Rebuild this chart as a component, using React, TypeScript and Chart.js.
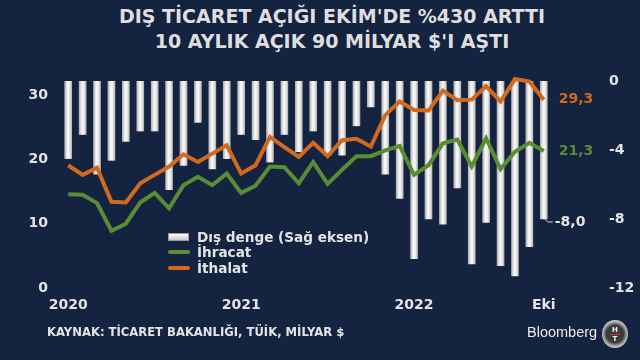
import React, { useEffect, useRef } from "react";
import { Chart, registerables } from "chart.js";

Chart.register(...registerables);

const months = [
  "2020-01","2020-02","2020-03","2020-04","2020-05","2020-06","2020-07","2020-08","2020-09","2020-10","2020-11","2020-12",
  "2021-01","2021-02","2021-03","2021-04","2021-05","2021-06","2021-07","2021-08","2021-09","2021-10","2021-11","2021-12",
  "2022-01","2022-02","2022-03","2022-04","2022-05","2022-06","2022-07","2022-08","2022-09","2022-10",
];

const xTickLabels: Record<string, string> = {
  "2020-01": "2020",
  "2021-01": "2021",
  "2022-01": "2022",
  "2022-10": "Eki",
};

const disDenge = [
  -4.5, -3.1, -5.4, -4.6, -3.5, -2.9, -2.9, -6.3, -4.9, -2.4, -5.1, -4.5,
  -3.1, -3.4, -4.7, -3.1, -4.1, -2.9, -4.3, -4.3, -2.6, -1.5, -5.4, -6.8,
  -10.3, -8.0, -8.3, -6.2, -10.6, -8.2, -10.7, -11.3, -9.6, -8.0,
];

const ihracat = [
  14.6, 14.5, 13.2, 8.9, 10.0, 13.3, 14.8, 12.4, 16.0, 17.3, 16.0, 17.8,
  14.8, 15.9, 18.9, 18.8, 16.3, 19.6, 16.2, 18.4, 20.5, 20.5, 21.4, 22.1,
  17.6, 19.1, 22.5, 23.1, 18.9, 23.3, 18.5, 21.2, 22.6, 21.3,
];

const ithalat = [
  19.1, 17.6, 18.7, 13.4, 13.3, 16.3, 17.6, 18.9, 20.8, 19.6, 20.9, 22.2,
  17.8, 19.1, 23.5, 21.9, 20.4, 22.6, 20.5, 23.0, 23.2, 22.0, 26.9, 29.0,
  27.7, 27.6, 30.7, 29.2, 29.3, 31.4, 29.0, 32.5, 32.1, 29.3,
];

const leftTicks = [0, 10, 20, 30];
const rightTicks = [-12, -8, -4, 0];

const BG = "#14233f";
const GREEN = "#5a8c33";
const ORANGE = "#d2691f";
const TEXT = "#e4e4e4";
const FONT = "'DejaVu Sans', Verdana, sans-serif";

const fmt = (v: number) => v.toFixed(1).replace(".", ",");

const endLabels = {
  id: "endLabels",
  afterDatasetsDraw(chart: any) {
    const { ctx, scales } = chart;
    const sx = scales.x, sy = scales.y, sy2 = scales.y2;
    const n = months.length - 1;
    const xLast = sx.getPixelForValue(n);
    ctx.save();
    ctx.font = `bold 14px ${FONT}`;
    ctx.textBaseline = "middle";
    ctx.textAlign = "left";
    ctx.fillStyle = ORANGE;
    ctx.fillText(fmt(ithalat[n]), xLast + 15, sy.getPixelForValue(ithalat[n]));
    ctx.fillStyle = GREEN;
    ctx.fillText(fmt(ihracat[n]), xLast + 15, sy.getPixelForValue(ihracat[n]));
    const yb = sy2.getPixelForValue(disDenge[n]);
    ctx.strokeStyle = "#cfcfcf";
    ctx.lineWidth = 1;
    ctx.beginPath();
    ctx.moveTo(xLast + 1, yb);
    ctx.lineTo(xLast + 4, yb + 3);
    ctx.lineTo(xLast + 9, yb + 3);
    ctx.stroke();
    ctx.fillStyle = TEXT;
    ctx.fillText(fmt(disDenge[n]), xLast + 11, yb + 3);
    ctx.restore();
  },
};

function barFill(c: any) {
  const chart = c.chart;
  const sx = chart.scales && chart.scales.x;
  if (!sx || c.dataIndex == null) return "#dedede";
  const x = sx.getPixelForValue(c.dataIndex);
  if (!isFinite(x)) return "#dedede";
  const g = chart.ctx.createLinearGradient(x - 3.5, 0, x + 3.5, 0);
  g.addColorStop(0, "#b0b0b0");
  g.addColorStop(0.4, "#f8f8f8");
  g.addColorStop(0.7, "#ebebeb");
  g.addColorStop(1, "#b4b4b4");
  return g;
}

export default function App() {
  const ref = useRef<HTMLCanvasElement>(null);

  useEffect(() => {
    document.body.style.margin = "0";
    const chart = new Chart(ref.current as HTMLCanvasElement, {
      data: {
        labels: months,
        datasets: [
          {
            type: "line",
            label: "İthalat",
            data: ithalat,
            yAxisID: "y",
            borderColor: ORANGE,
            borderWidth: 4,
            pointRadius: 0,
            tension: 0,
            clip: false,
            order: 1,
          },
          {
            type: "line",
            label: "İhracat",
            data: ihracat,
            yAxisID: "y",
            borderColor: GREEN,
            borderWidth: 4,
            pointRadius: 0,
            tension: 0,
            clip: false,
            order: 0,
          },
          {
            type: "bar",
            label: "Dış denge (Sağ eksen)",
            data: disDenge,
            yAxisID: "y2",
            backgroundColor: barFill,
            borderWidth: 0,
            barThickness: 7,
            order: 2,
          },
        ] as any,
      },
      options: {
        responsive: false,
        animation: false,
        layout: { padding: { top: 81, left: 0, right: 0, bottom: 0 } },
        plugins: {
          legend: { display: false },
          title: { display: false },
          tooltip: { enabled: false },
        },
        scales: {
          x: {
            type: "category",
            offset: true,
            grid: { display: false, drawTicks: false },
            border: { display: false },
            ticks: {
              autoSkip: false,
              maxRotation: 0,
              padding: 9,
              color: TEXT,
              font: { family: FONT, weight: "bold", size: 14 },
              callback: (_v: any, i: number) => xTickLabels[months[i]] || "",
            },
            afterFit: (s: any) => { s.height = 72; },
          },
          y: {
            type: "linear",
            position: "left",
            min: 0,
            max: 32.2,
            grid: { display: false, drawTicks: false },
            border: { display: false },
            ticks: {
              stepSize: 10,
              includeBounds: false,
              padding: 13,
              color: TEXT,
              font: { family: FONT, weight: "bold", size: 14 },
              callback: (v: any) => (leftTicks.includes(Number(v)) ? String(v) : ""),
            },
            afterFit: (s: any) => { s.width = 61; },
          },
          y2: {
            type: "linear",
            position: "right",
            min: -12,
            max: 0,
            grid: { display: false, drawTicks: false },
            border: { display: false },
            ticks: {
              stepSize: 4,
              padding: 58,
              color: TEXT,
              font: { family: FONT, weight: "bold", size: 14 },
              callback: (v: any) => (rightTicks.includes(Number(v)) ? String(v) : ""),
            },
            afterFit: (s: any) => { s.width = 89; },
          },
        },
      } as any,
      plugins: [endLabels],
    });
    return () => chart.destroy();
  }, []);

  const legendText: React.CSSProperties = {
    position: "absolute",
    left: 197,
    font: `bold 13.6px ${FONT}`,
    color: TEXT,
    lineHeight: "16px",
    whiteSpace: "nowrap",
  };

  return (
    <div style={{ position: "fixed", left: 0, top: 0, width: 640, height: 360, background: BG, overflow: "hidden" }}>
      <div
        style={{
          position: "absolute", left: 12, top: 4, width: 640, textAlign: "center",
          font: `bold 19px ${FONT}`, lineHeight: "25px", color: "#dedede",
        }}
      >
        <div>DIŞ TİCARET AÇIĞI EKİM'DE %430 ARTTI</div>
        <div>10 AYLIK AÇIK 90 MİLYAR $'I AŞTI</div>
      </div>
      <canvas ref={ref} width={640} height={360} style={{ position: "absolute", left: 0, top: 0 }} />
      <div
        style={{
          position: "absolute", left: 168, top: 233, width: 21, height: 8,
          background: "linear-gradient(#ffffff, #c8c8c8)", border: "1px solid #9a9a9a", boxSizing: "border-box",
        }}
      />
      <div style={{ position: "absolute", left: 168, top: 250, width: 22, height: 4, borderRadius: 2, background: GREEN }} />
      <div style={{ position: "absolute", left: 168, top: 266, width: 22, height: 4, borderRadius: 2, background: ORANGE }} />
      <div style={{ ...legendText, top: 229 }}>Dış denge (Sağ eksen)</div>
      <div style={{ ...legendText, top: 244 }}>İhracat</div>
      <div style={{ ...legendText, top: 260 }}>İthalat</div>
      <div
        style={{
          position: "absolute", left: 47, top: 324, font: `bold 11.6px ${FONT}`, color: TEXT,
          lineHeight: "16px", whiteSpace: "nowrap",
        }}
      >
        KAYNAK: TİCARET BAKANLIĞI, TÜİK, MİLYAR $
      </div>
      <div
        style={{
          position: "absolute", left: 527, top: 324, font: `14.5px 'Liberation Sans', Arial, sans-serif`,
          color: "#ececec", lineHeight: "17px", whiteSpace: "nowrap",
        }}
      >
        Bloomberg
      </div>
      <div
        style={{
          position: "absolute", left: 602, top: 320, width: 26, height: 28, borderRadius: "50%",
          background: "radial-gradient(circle, #3a3a3a 45%, #9a9a9a 60%, #dcdcdc 75%, #8a8a8a 100%)",
          color: "#f0f0f0", font: `bold 7px ${FONT}`, textAlign: "center", lineHeight: "8px",
          paddingTop: 6, boxSizing: "border-box",
        }}
      >
        <div>H</div>
        <div style={{ height: 1, width: 10, margin: "0 auto", background: "#d33" }} />
        <div>T</div>
      </div>
    </div>
  );
}
